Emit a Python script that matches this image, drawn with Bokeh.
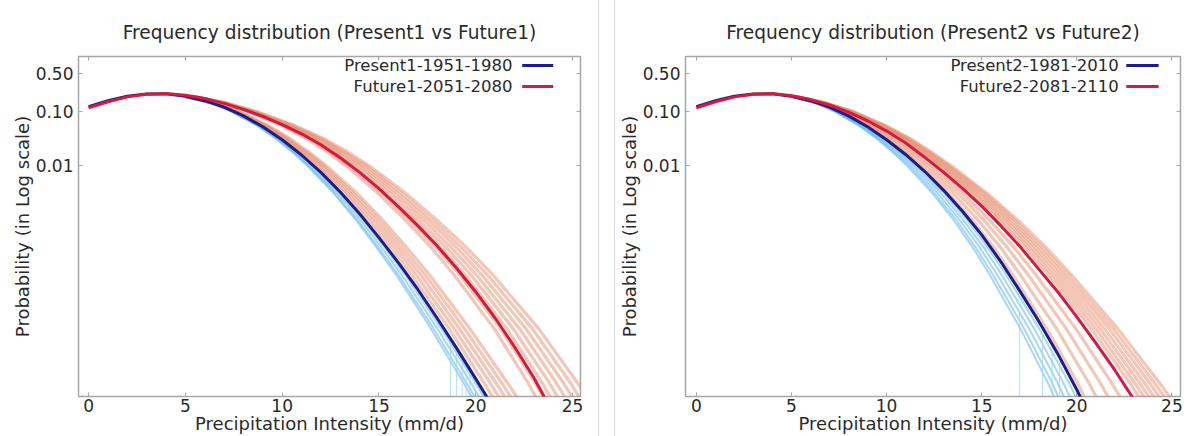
from bokeh.plotting import figure
from bokeh.layouts import row
from bokeh.models import (Range1d, FixedTicker, PrintfTickFormatter, LinearAxis, LogAxis,
                          Label, Arrow, CustomJSTickFormatter, Spacer)
from bokeh.embed import file_html
from bokeh.resources import INLINE

# ---------------- data ----------------
intensity = list(range(0, 26))

# main curves: log10(probability) at intensity = 0, 1, 2, ...
present1_log10 = [-0.91, -0.80, -0.72, -0.675, -0.675, -0.72, -0.80, -0.92, -1.08, -1.28, -1.52,
                  -1.80, -2.12, -2.48, -2.88, -3.32, -3.78, -4.27, -4.80, -5.35, -5.92, -6.50]
future1_log10 = [-0.93, -0.82, -0.73, -0.68, -0.67, -0.70, -0.76, -0.85, -0.96, -1.09, -1.24,
                 -1.41, -1.61, -1.85, -2.12, -2.42, -2.75, -3.10, -3.47, -3.88, -4.32, -4.80,
                 -5.33, -5.90, -6.55, -7.20]
present2_log10 = [-0.91, -0.80, -0.72, -0.675, -0.675, -0.72, -0.80, -0.92, -1.08, -1.28, -1.52,
                  -1.79, -2.10, -2.45, -2.84, -3.27, -3.76, -4.30, -4.86, -5.46, -6.12, -6.85]
future2_log10 = [-0.93, -0.82, -0.73, -0.68, -0.67, -0.71, -0.78, -0.88, -1.01, -1.17, -1.36,
                 -1.58, -1.84, -2.12, -2.42, -2.74, -3.10, -3.48, -3.90, -4.32, -4.78, -5.26,
                 -5.76, -6.30, -6.85]

# ensemble members: intensity at which each member crosses these probability levels
levels_p = [0.19, 0.141, 0.1, 0.0562, 0.0316, 0.0178, 0.01, 3.16e-3, 1e-3, 3.16e-4,
            1e-4, 1e-5, 1e-6, 1e-7]

present1_members_x = [
    [5, 6.41, 7.48, 8.81, 9.87, 10.76, 11.56, 12.97, 14.18, 15.29, 16.34, 18.23, 19.99, 21.66],
    [5, 6.38, 7.44, 8.75, 9.80, 10.67, 11.46, 12.85, 14.04, 15.13, 16.16, 18.03, 19.76, 21.41],
    [5, 6.36, 7.40, 8.70, 9.72, 10.59, 11.36, 12.73, 13.90, 14.97, 15.99, 17.83, 19.53, 21.16],
    [5, 6.35, 7.38, 8.66, 9.67, 10.53, 11.30, 12.65, 13.81, 14.87, 15.88, 17.69, 19.38, 20.99],
]
present1_drop_x = [18.7, 19.0, 19.3, 19.5, 19.7]
present1_drop_top = [5.6e-6, 4.5e-6, 3.5e-6, 2.8e-6, 2.2e-6]

future1_members_x = [
    [5, 6.45, 7.55, 8.93, 10.02, 10.94, 11.76, 13.21, 14.46, 15.60, 16.68, 18.63, 20.44, 22.17],
    [5, 6.48, 7.60, 9.00, 10.12, 11.05, 11.90, 13.37, 14.64, 15.81, 16.91, 18.89, 20.75, 22.50],
    [5, 6.51, 7.65, 9.08, 10.22, 11.17, 12.03, 13.53, 14.83, 16.01, 17.14, 19.16, 21.05, 22.84],
    [5, 6.53, 7.70, 9.16, 10.31, 11.29, 12.16, 13.69, 15.01, 16.22, 17.37, 19.43, 21.35, 23.18],
    [5, 6.56, 7.75, 9.24, 10.41, 11.40, 12.29, 13.86, 15.20, 16.43, 17.60, 19.70, 21.65, 23.51],
    [5.32, 6.94, 8.21, 9.91, 11.26, 12.35, 13.30, 14.93, 16.36, 17.69, 18.87, 20.96, 22.71, 24.25],
    [5.33, 6.98, 8.28, 10.01, 11.39, 12.50, 13.47, 15.14, 16.59, 17.95, 19.16, 21.29, 23.08, 24.65],
    [5.33, 7.02, 8.34, 10.11, 11.51, 12.66, 13.65, 15.34, 16.83, 18.21, 19.44, 21.61, 23.44, 25.05],
    [5.34, 7.06, 8.41, 10.21, 11.64, 12.81, 13.82, 15.55, 17.06, 18.47, 19.73, 21.94, 23.81, 25.45],
    [5.35, 7.10, 8.48, 10.31, 11.77, 12.96, 13.99, 15.75, 17.30, 18.73, 20.02, 22.27, 24.17, 25.84],
    [5.35, 7.14, 8.54, 10.41, 11.90, 13.11, 14.16, 15.96, 17.53, 19.00, 20.30, 22.60, 24.54, 26.24],
    [5.36, 7.18, 8.61, 10.52, 12.03, 13.26, 14.33, 16.16, 17.76, 19.26, 20.59, 22.93, 24.90, 26.64],
    [5.37, 7.22, 8.67, 10.62, 12.16, 13.41, 14.50, 16.37, 18.00, 19.52, 20.87, 23.26, 25.27, 27.03],
]

present2_members_x = [
    [5, 6.40, 7.46, 8.79, 9.85, 10.76, 11.58, 13.01, 14.23, 15.31, 16.27, 18.03, 19.60, 20.96],
    [5, 6.37, 7.41, 8.72, 9.75, 10.65, 11.45, 12.85, 14.04, 15.10, 16.04, 17.77, 19.30, 20.63],
    [5, 6.34, 7.36, 8.64, 9.65, 10.53, 11.31, 12.68, 13.85, 14.89, 15.81, 17.50, 19.00, 20.31],
    [5, 6.31, 7.31, 8.56, 9.55, 10.41, 11.18, 12.52, 13.67, 14.68, 15.58, 17.24, 18.71, 19.99],
    [5, 6.29, 7.28, 8.50, 9.48, 10.32, 11.08, 12.40, 13.53, 14.53, 15.41, 17.04, 18.49, 19.74],
]
present2_drop_x = [17.0, 18.2, 18.7, 19.1]
present2_drop_top = [2.0e-5, 7.9e-6, 4.5e-6, 2.5e-6]

future2_members_x = [
    [5, 6.44, 7.54, 8.91, 9.99, 10.94, 11.78, 13.25, 14.51, 15.63, 16.61, 18.43, 20.04, 21.44],
    [5.04, 6.51, 7.64, 9.04, 10.15, 11.12, 11.98, 13.50, 14.81, 15.99, 17.02, 18.94, 20.64, 22.15],
    [5.07, 6.57, 7.73, 9.17, 10.32, 11.30, 12.18, 13.75, 15.12, 16.34, 17.43, 19.45, 21.24, 22.86],
    [5.11, 6.64, 7.83, 9.29, 10.48, 11.47, 12.37, 14.00, 15.42, 16.70, 17.83, 19.95, 21.84, 23.56],
    [5.14, 6.73, 7.98, 9.51, 10.75, 11.78, 12.72, 14.44, 15.93, 17.29, 18.50, 20.77, 22.79, 24.66],
    [5.14, 6.76, 8.02, 9.57, 10.84, 11.88, 12.83, 14.57, 16.10, 17.47, 18.70, 21.00, 23.05, 24.94],
    [5.15, 6.79, 8.07, 9.64, 10.92, 11.98, 12.95, 14.71, 16.26, 17.65, 18.90, 21.23, 23.31, 25.23],
    [5.15, 6.81, 8.11, 9.71, 11.01, 12.08, 13.06, 14.85, 16.42, 17.83, 19.10, 21.46, 23.57, 25.52],
    [5.15, 6.84, 8.15, 9.77, 11.09, 12.18, 13.18, 14.99, 16.58, 18.01, 19.30, 21.70, 23.84, 25.81],
    [5.15, 6.86, 8.20, 9.84, 11.18, 12.28, 13.29, 15.13, 16.74, 18.19, 19.50, 21.93, 24.10, 26.10],
    [5.16, 6.89, 8.24, 9.91, 11.26, 12.38, 13.40, 15.27, 16.90, 18.38, 19.70, 22.16, 24.36, 26.39],
]

y_ticks = [0.5, 0.1, 0.01]
x_ticks = [0, 5, 10, 15, 20, 25]
y_bottom = 5.7e-7
y_top = 1.03

# ---------------- styling ----------------
FONT = "DejaVu Sans"
NAVY = "#1c1c8c"
CRIMSON = "#d6193e"
SALMON = "#e5896a"
SKY = "#4fb0f2"
DROP = "#a3d3f2"
FRAME = "#a6a6a6"
TXT = "#2a2a2a"


def panel(title, xr, present, future, pres_members, drops_x, drops_top, fut_members,
          labels, legend_text_x, legend_line, width, min_left, min_right):
    p = figure(width=width, height=436, y_axis_type="log",
               x_range=Range1d(*xr), y_range=Range1d(y_bottom, y_top),
               output_backend="svg", toolbar_location=None, title=title,
               min_border_left=min_left, min_border_right=min_right,
               min_border_top=56, min_border_bottom=36)
    p.title.align = "center"
    p.title.text_font = FONT
    p.title.text_font_size = "18.6px"
    p.title.text_font_style = "normal"
    p.title.text_color = TXT
    p.title.standoff = 28
    p.grid.visible = False
    p.outline_line_color = FRAME
    p.outline_line_width = 1.5
    p.background_fill_color = "white"
    p.border_fill_color = "white"

    # ensemble members
    p.multi_line(xs=pres_members, ys=[levels_p] * len(pres_members),
                 line_color=SKY, line_alpha=0.5, line_width=2)
    p.segment(x0=drops_x, y0=drops_top, x1=drops_x, y1=[y_bottom] * len(drops_x),
              line_color=DROP, line_alpha=0.8, line_width=1)
    p.multi_line(xs=fut_members, ys=[levels_p] * len(fut_members),
                 line_color=SALMON, line_alpha=0.48, line_width=3.2)
    # main curves
    p.line(intensity[:len(present)], [10 ** v for v in present],
           line_color=NAVY, line_width=3)
    p.line(intensity[:len(future)], [10 ** v for v in future],
           line_color=CRIMSON, line_width=3)

    # legend (text on the left, sample line on the right)
    for lab, yv, col in zip(labels, [0.70, 0.29], [NAVY, CRIMSON]):
        p.add_layout(Label(x=legend_text_x, y=yv, text=lab, text_align="right",
                           text_baseline="middle", text_font=FONT, text_font_size="16.5px",
                           text_color=TXT))
        p.add_layout(Arrow(end=None, x_start=legend_line[0], y_start=yv,
                           x_end=legend_line[1], y_end=yv, line_color=col, line_width=3))

    # axes
    p.xaxis.ticker = FixedTicker(ticks=x_ticks)
    p.yaxis.ticker = FixedTicker(ticks=y_ticks)
    p.yaxis.formatter = PrintfTickFormatter(format="%.2f")
    p.xaxis.axis_label = "Precipitation Intensity (mm/d)"
    p.yaxis.axis_label = "Probability (in Log scale)"
    for ax in (p.xaxis[0], p.yaxis[0]):
        ax.axis_line_color = None
        ax.major_tick_in = 4
        ax.major_tick_out = 0
        ax.major_tick_line_color = FRAME
        ax.minor_tick_line_color = None
        ax.major_label_text_font = FONT
        ax.major_label_text_font_size = "17px"
        ax.major_label_text_color = TXT
        ax.axis_label_text_font = FONT
        ax.axis_label_text_font_size = "18px"
        ax.axis_label_text_font_style = "normal"
        ax.axis_label_text_color = TXT
    p.xaxis.major_label_standoff = 2
    p.xaxis.axis_label_standoff = -2
    p.yaxis.major_label_standoff = 5
    p.yaxis.axis_label_standoff = 0

    top = LinearAxis(ticker=FixedTicker(ticks=x_ticks),
                     formatter=CustomJSTickFormatter(code="return ''"))
    right = LogAxis(ticker=FixedTicker(ticks=y_ticks),
                    formatter=CustomJSTickFormatter(code="return ''"))
    for ax in (top, right):
        ax.axis_line_color = None
        ax.major_tick_in = 4
        ax.major_tick_out = 0
        ax.major_tick_line_color = FRAME
        ax.minor_tick_line_color = None
        ax.major_label_text_font_size = "0px"
        ax.major_label_standoff = 0
    p.add_layout(top, "above")
    p.add_layout(right, "right")
    return p


p1 = panel("Frequency distribution (Present1 vs Future1)", (-0.52, 25.41),
           present1_log10, future1_log10, present1_members_x, present1_drop_x,
           present1_drop_top, future1_members_x,
           ["Present1-1951-1980", "Future1-2051-2080"], 21.9, (22.4, 24.0), 598, 78, 18)
p2 = panel("Frequency distribution (Present2 vs Future2)", (-0.57, 25.45),
           present2_log10, future2_log10, present2_members_x, present2_drop_x,
           present2_drop_top, future2_members_x,
           ["Present2-1981-2010", "Future2-2081-2110"], 22.2, (22.6, 24.3), 575, 67, 10)

gap = Spacer(width=17, height=436,
             styles={"border-left": "1px solid #d4d4d4", "border-right": "1px solid #d4d4d4",
                     "box-sizing": "border-box"})

layout = row(p1, gap, p2)
open("out.html", "w").write(file_html(layout, INLINE))
